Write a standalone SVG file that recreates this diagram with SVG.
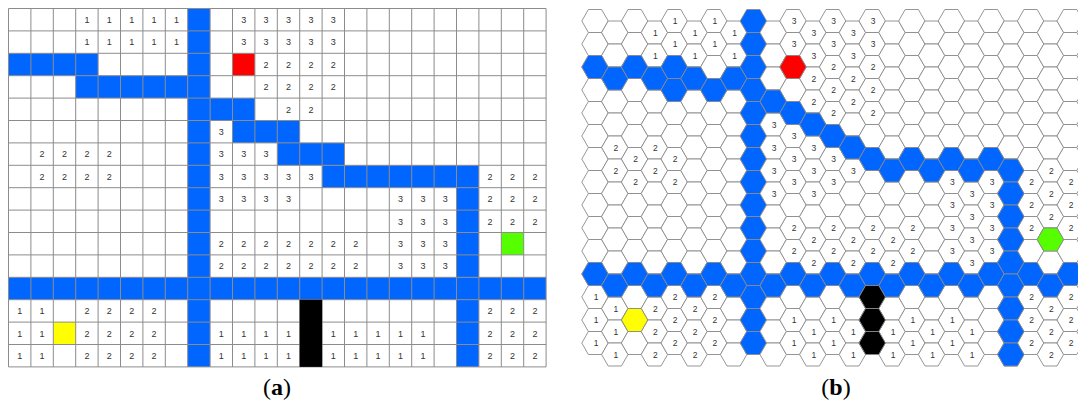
<svg xmlns="http://www.w3.org/2000/svg" xmlns:xlink="http://www.w3.org/1999/xlink" width="1078" height="404" viewBox="0 0 1078 404">
<style>
.t{font-family:"Liberation Sans",Arial,sans-serif;font-size:9px;fill:#333;text-anchor:middle}
.ht{font-family:"Liberation Sans",Arial,sans-serif;font-size:8.5px;fill:#333;text-anchor:middle}
.b{fill:#0066ff}.r{fill:#ff0000}.g{fill:#55ff00}.y{fill:#ffff00}.k{fill:#000}.w{fill:#fff}
.lab{font-family:"Liberation Serif","Times New Roman",serif;font-size:24px;fill:#000;text-anchor:middle}
</style>
<defs>
<polygon id="h" points="-13.2,0 -6.6,-11.5 6.6,-11.5 13.2,0 6.6,11.5 -6.6,11.5" stroke="#8a8a8a" stroke-width="0.9"/>
<g id="col"><use href="#h"/><use href="#h" y="23"/><use href="#h" y="46"/><use href="#h" y="69"/><use href="#h" y="92"/><use href="#h" y="115"/><use href="#h" y="138"/><use href="#h" y="161"/><use href="#h" y="184"/><use href="#h" y="207"/><use href="#h" y="230"/><use href="#h" y="253"/><use href="#h" y="276"/><use href="#h" y="299"/><use href="#h" y="322"/></g>
</defs>
<rect width="1078" height="404" fill="#fff"/>
<g id="panel-a">
<rect x="8.5" y="8.5" width="537.6" height="358.4" fill="#fff"/>
<g id="a-cells">
<rect class="b" x="187.7" y="8.5" width="22.4" height="358.4"/>
<rect class="b" x="8.5" y="53.3" width="89.6" height="22.4"/>
<rect class="b" x="75.7" y="75.7" width="112" height="22.4"/>
<rect class="b" x="210.1" y="98.1" width="44.8" height="22.4"/>
<rect class="b" x="232.5" y="120.5" width="67.2" height="22.4"/>
<rect class="b" x="277.3" y="142.9" width="67.2" height="22.4"/>
<rect class="b" x="322.1" y="165.3" width="156.8" height="22.4"/>
<rect class="b" x="456.5" y="187.7" width="22.4" height="89.6"/>
<rect class="b" x="8.5" y="277.3" width="537.6" height="22.4"/>
<rect class="b" x="456.5" y="299.7" width="22.4" height="67.2"/>
<rect class="r" x="232.5" y="53.3" width="22.4" height="22.4"/>
<rect class="g" x="501.3" y="232.5" width="22.4" height="22.4"/>
<rect class="y" x="53.3" y="322.1" width="22.4" height="22.4"/>
</g>
<path d="M8.5 8.5V366.9M30.9 8.5V366.9M53.3 8.5V366.9M75.7 8.5V366.9M98.1 8.5V366.9M120.5 8.5V366.9M142.9 8.5V366.9M165.3 8.5V366.9M187.7 8.5V366.9M210.1 8.5V366.9M232.5 8.5V366.9M254.9 8.5V366.9M277.3 8.5V366.9M299.7 8.5V366.9M322.1 8.5V366.9M344.5 8.5V366.9M366.9 8.5V366.9M389.3 8.5V366.9M411.7 8.5V366.9M434.1 8.5V366.9M456.5 8.5V366.9M478.9 8.5V366.9M501.3 8.5V366.9M523.7 8.5V366.9M546.1 8.5V366.9M8.5 8.5H546.1M8.5 30.9H546.1M8.5 53.3H546.1M8.5 75.7H546.1M8.5 98.1H546.1M8.5 120.5H546.1M8.5 142.9H546.1M8.5 165.3H546.1M8.5 187.7H546.1M8.5 210.1H546.1M8.5 232.5H546.1M8.5 254.9H546.1M8.5 277.3H546.1M8.5 299.7H546.1M8.5 322.1H546.1M8.5 344.5H546.1M8.5 366.9H546.1" stroke="#8c8c8c" stroke-width="1" fill="none"/>
<rect class="k" x="299.7" y="299.7" width="22.4" height="67.2"/>
<g id="a-text" class="t">
<g transform="translate(0,22.9)"><text x="86.9">1</text><text x="109.3">1</text><text x="131.7">1</text><text x="154.1">1</text><text x="176.5">1</text><text x="243.7">3</text><text x="266.1">3</text><text x="288.5">3</text><text x="310.9">3</text><text x="333.3">3</text></g>
<g transform="translate(0,45.3)"><text x="86.9">1</text><text x="109.3">1</text><text x="131.7">1</text><text x="154.1">1</text><text x="176.5">1</text><text x="243.7">3</text><text x="266.1">3</text><text x="288.5">3</text><text x="310.9">3</text><text x="333.3">3</text></g>
<g transform="translate(0,67.7)"><text x="266.1">2</text><text x="288.5">2</text><text x="310.9">2</text><text x="333.3">2</text></g>
<g transform="translate(0,90.1)"><text x="266.1">2</text><text x="288.5">2</text><text x="310.9">2</text><text x="333.3">2</text></g>
<g transform="translate(0,112.5)"><text x="288.5">2</text><text x="310.9">2</text></g>
<g transform="translate(0,134.9)"><text x="221.3">3</text></g>
<g transform="translate(0,157.3)"><text x="42.1">2</text><text x="64.5">2</text><text x="86.9">2</text><text x="109.3">2</text><text x="221.3">3</text><text x="243.7">3</text><text x="266.1">3</text></g>
<g transform="translate(0,179.7)"><text x="42.1">2</text><text x="64.5">2</text><text x="86.9">2</text><text x="109.3">2</text><text x="221.3">3</text><text x="243.7">3</text><text x="266.1">3</text><text x="288.5">3</text><text x="310.9">3</text><text x="490.1">2</text><text x="512.5">2</text><text x="534.9">2</text></g>
<g transform="translate(0,202.1)"><text x="221.3">3</text><text x="243.7">3</text><text x="266.1">3</text><text x="288.5">3</text><text x="400.5">3</text><text x="422.9">3</text><text x="445.3">3</text><text x="490.1">2</text><text x="512.5">2</text><text x="534.9">2</text></g>
<g transform="translate(0,224.5)"><text x="400.5">3</text><text x="422.9">3</text><text x="445.3">3</text><text x="490.1">2</text><text x="512.5">2</text><text x="534.9">2</text></g>
<g transform="translate(0,246.9)"><text x="221.3">2</text><text x="243.7">2</text><text x="266.1">2</text><text x="288.5">2</text><text x="310.9">2</text><text x="333.3">2</text><text x="355.7">2</text><text x="400.5">3</text><text x="422.9">3</text><text x="445.3">3</text></g>
<g transform="translate(0,269.3)"><text x="221.3">2</text><text x="243.7">2</text><text x="266.1">2</text><text x="288.5">2</text><text x="310.9">2</text><text x="333.3">2</text><text x="355.7">2</text><text x="400.5">3</text><text x="422.9">3</text><text x="445.3">3</text></g>
<g transform="translate(0,314.1)"><text x="19.7">1</text><text x="42.1">1</text><text x="86.9">2</text><text x="109.3">2</text><text x="131.7">2</text><text x="154.1">2</text><text x="490.1">2</text><text x="512.5">2</text><text x="534.9">2</text></g>
<g transform="translate(0,336.5)"><text x="19.7">1</text><text x="42.1">1</text><text x="86.9">2</text><text x="109.3">2</text><text x="131.7">2</text><text x="154.1">2</text><text x="221.3">1</text><text x="243.7">1</text><text x="266.1">1</text><text x="288.5">1</text><text x="333.3">1</text><text x="355.7">1</text><text x="378.1">1</text><text x="400.5">1</text><text x="422.9">1</text><text x="490.1">2</text><text x="512.5">2</text><text x="534.9">2</text></g>
<g transform="translate(0,358.9)"><text x="19.7">1</text><text x="42.1">1</text><text x="86.9">2</text><text x="109.3">2</text><text x="131.7">2</text><text x="154.1">2</text><text x="221.3">1</text><text x="243.7">1</text><text x="266.1">1</text><text x="288.5">1</text><text x="333.3">1</text><text x="355.7">1</text><text x="378.1">1</text><text x="400.5">1</text><text x="422.9">1</text><text x="490.1">2</text><text x="512.5">2</text><text x="534.9">2</text></g>
</g>
<text class="lab" x="277" y="395">(<tspan font-weight="bold">a</tspan>)</text>
</g>
<g id="panel-b">
<g id="b-grid">
<use href="#col" class="w" x="595" y="21"/>
<use href="#col" class="w" x="614.8" y="32.5"/>
<use href="#col" class="w" x="634.6" y="21"/>
<use href="#col" class="w" x="654.4" y="32.5"/>
<use href="#col" class="w" x="674.2" y="21"/>
<use href="#col" class="w" x="694" y="32.5"/>
<use href="#col" class="w" x="713.8" y="21"/>
<use href="#col" class="w" x="733.6" y="32.5"/>
<use href="#col" class="b" x="753.4" y="21"/>
<use href="#col" class="w" x="773.2" y="32.5"/>
<use href="#col" class="w" x="793" y="21"/>
<use href="#col" class="w" x="812.8" y="32.5"/>
<use href="#col" class="w" x="832.6" y="21"/>
<use href="#col" class="w" x="852.4" y="32.5"/>
<use href="#col" class="w" x="872.2" y="21"/>
<use href="#col" class="w" x="892" y="32.5"/>
<use href="#col" class="w" x="911.8" y="21"/>
<use href="#col" class="w" x="931.6" y="32.5"/>
<use href="#col" class="w" x="951.4" y="21"/>
<use href="#col" class="w" x="971.2" y="32.5"/>
<use href="#col" class="w" x="991" y="21"/>
<use href="#col" class="w" x="1010.8" y="32.5"/>
<use href="#col" class="w" x="1030.6" y="21"/>
<use href="#col" class="w" x="1050.4" y="32.5"/>
<use href="#col" class="w" x="1070.2" y="21"/>
</g>
<g id="b-cells">
<use href="#h" class="b" x="595" y="67"/><use href="#h" class="b" x="595" y="274"/>
<use href="#h" class="b" x="614.8" y="78.5"/><use href="#h" class="b" x="614.8" y="285.5"/>
<use href="#h" class="b" x="634.6" y="67"/><use href="#h" class="b" x="634.6" y="274"/>
<use href="#h" class="b" x="654.4" y="78.5"/><use href="#h" class="b" x="654.4" y="285.5"/>
<use href="#h" class="b" x="674.2" y="67"/><use href="#h" class="b" x="674.2" y="90"/><use href="#h" class="b" x="674.2" y="274"/>
<use href="#h" class="b" x="694" y="78.5"/><use href="#h" class="b" x="694" y="285.5"/>
<use href="#h" class="b" x="713.8" y="90"/><use href="#h" class="b" x="713.8" y="274"/>
<use href="#h" class="b" x="733.6" y="78.5"/><use href="#h" class="b" x="733.6" y="285.5"/>
<use href="#h" class="b" x="773.2" y="101.5"/><use href="#h" class="b" x="773.2" y="285.5"/>
<use href="#h" class="b" x="793" y="113"/><use href="#h" class="b" x="793" y="274"/>
<use href="#h" class="b" x="812.8" y="124.5"/><use href="#h" class="b" x="812.8" y="285.5"/>
<use href="#h" class="b" x="832.6" y="136"/><use href="#h" class="b" x="832.6" y="274"/>
<use href="#h" class="b" x="852.4" y="147.5"/><use href="#h" class="b" x="852.4" y="285.5"/>
<use href="#h" class="b" x="872.2" y="159"/><use href="#h" class="b" x="872.2" y="274"/>
<use href="#h" class="b" x="892" y="170.5"/><use href="#h" class="b" x="892" y="285.5"/>
<use href="#h" class="b" x="911.8" y="159"/><use href="#h" class="b" x="911.8" y="274"/>
<use href="#h" class="b" x="931.6" y="170.5"/><use href="#h" class="b" x="931.6" y="285.5"/>
<use href="#h" class="b" x="951.4" y="159"/><use href="#h" class="b" x="951.4" y="274"/>
<use href="#h" class="b" x="971.2" y="170.5"/><use href="#h" class="b" x="971.2" y="285.5"/>
<use href="#h" class="b" x="991" y="159"/><use href="#h" class="b" x="991" y="274"/>
<use href="#h" class="b" x="1010.8" y="170.5"/><use href="#h" class="b" x="1010.8" y="193.5"/><use href="#h" class="b" x="1010.8" y="216.5"/><use href="#h" class="b" x="1010.8" y="239.5"/><use href="#h" class="b" x="1010.8" y="262.5"/><use href="#h" class="b" x="1010.8" y="285.5"/><use href="#h" class="b" x="1010.8" y="308.5"/><use href="#h" class="b" x="1010.8" y="331.5"/><use href="#h" class="b" x="1010.8" y="354.5"/>
<use href="#h" class="b" x="1030.6" y="274"/>
<use href="#h" class="b" x="1050.4" y="285.5"/>
<use href="#h" class="b" x="1070.2" y="274"/>
<use href="#h" class="r" x="793" y="67"/>
<use href="#h" class="g" x="1050.4" y="239.5"/>
<use href="#h" class="y" x="634.6" y="320"/>
<use href="#h" class="k" x="872.2" y="297"/><use href="#h" class="k" x="872.2" y="320"/><use href="#h" class="k" x="872.2" y="343"/>
</g>
<g id="b-text" class="ht">
<g transform="translate(596,3)"><text y="297">1</text><text y="320">1</text><text y="343">1</text></g>
<g transform="translate(615.8,3)"><text y="147.5">2</text><text y="170.5">2</text><text y="308.5">1</text><text y="331.5">1</text><text y="354.5">1</text></g>
<g transform="translate(635.6,3)"><text y="159">2</text><text y="182">2</text></g>
<g transform="translate(655.4,3)"><text y="32.5">1</text><text y="55.5">1</text><text y="147.5">2</text><text y="170.5">2</text><text y="308.5">2</text><text y="331.5">2</text><text y="354.5">2</text></g>
<g transform="translate(675.2,3)"><text y="21">1</text><text y="44">1</text><text y="159">2</text><text y="182">2</text><text y="297">2</text><text y="320">2</text><text y="343">2</text></g>
<g transform="translate(695,3)"><text y="32.5">1</text><text y="55.5">1</text><text y="308.5">2</text><text y="331.5">2</text><text y="354.5">2</text></g>
<g transform="translate(714.8,3)"><text y="21">1</text><text y="44">1</text><text y="297">2</text><text y="320">2</text><text y="343">2</text></g>
<g transform="translate(734.6,3)"><text y="32.5">1</text><text y="55.5">1</text></g>
<g transform="translate(774.2,3)"><text y="124.5">3</text><text y="147.5">3</text><text y="170.5">3</text><text y="193.5">3</text></g>
<g transform="translate(794,3)"><text y="21">3</text><text y="44">3</text><text y="136">3</text><text y="159">3</text><text y="182">3</text><text y="228">2</text><text y="251">2</text><text y="320">1</text><text y="343">1</text></g>
<g transform="translate(813.8,3)"><text y="32.5">3</text><text y="55.5">3</text><text y="78.5">2</text><text y="101.5">2</text><text y="147.5">3</text><text y="170.5">3</text><text y="193.5">3</text><text y="239.5">2</text><text y="262.5">2</text><text y="331.5">1</text><text y="354.5">1</text></g>
<g transform="translate(833.6,3)"><text y="21">3</text><text y="44">3</text><text y="67">2</text><text y="90">2</text><text y="113">2</text><text y="159">3</text><text y="182">3</text><text y="228">2</text><text y="251">2</text><text y="320">1</text><text y="343">1</text></g>
<g transform="translate(853.4,3)"><text y="32.5">3</text><text y="55.5">3</text><text y="78.5">2</text><text y="101.5">2</text><text y="170.5">3</text><text y="239.5">2</text><text y="262.5">2</text><text y="331.5">1</text><text y="354.5">1</text></g>
<g transform="translate(873.2,3)"><text y="21">3</text><text y="44">3</text><text y="67">2</text><text y="90">2</text><text y="113">2</text><text y="228">2</text><text y="251">2</text></g>
<g transform="translate(893,3)"><text y="239.5">2</text><text y="262.5">2</text><text y="331.5">1</text><text y="354.5">1</text></g>
<g transform="translate(912.8,3)"><text y="228">2</text><text y="251">2</text><text y="320">1</text><text y="343">1</text></g>
<g transform="translate(932.6,3)"><text y="331.5">1</text><text y="354.5">1</text></g>
<g transform="translate(952.4,3)"><text y="182">3</text><text y="205">3</text><text y="228">3</text><text y="251">3</text><text y="320">1</text><text y="343">1</text></g>
<g transform="translate(972.2,3)"><text y="193.5">3</text><text y="216.5">3</text><text y="239.5">3</text><text y="262.5">3</text><text y="331.5">1</text><text y="354.5">1</text></g>
<g transform="translate(992,3)"><text y="182">3</text><text y="205">3</text><text y="228">3</text><text y="251">3</text></g>
<g transform="translate(1031.6,3)"><text y="182">2</text><text y="205">2</text><text y="228">2</text><text y="297">2</text><text y="320">2</text><text y="343">2</text></g>
<g transform="translate(1051.4,3)"><text y="170.5">2</text><text y="193.5">2</text><text y="216.5">2</text><text y="308.5">2</text><text y="331.5">2</text><text y="354.5">2</text></g>
<g transform="translate(1071.2,3)"><text y="182">2</text><text y="205">2</text><text y="228">2</text><text y="297">2</text><text y="320">2</text><text y="343">2</text></g>
</g>
<text class="lab" x="836" y="395">(<tspan font-weight="bold">b</tspan>)</text>
</g>
</svg>
